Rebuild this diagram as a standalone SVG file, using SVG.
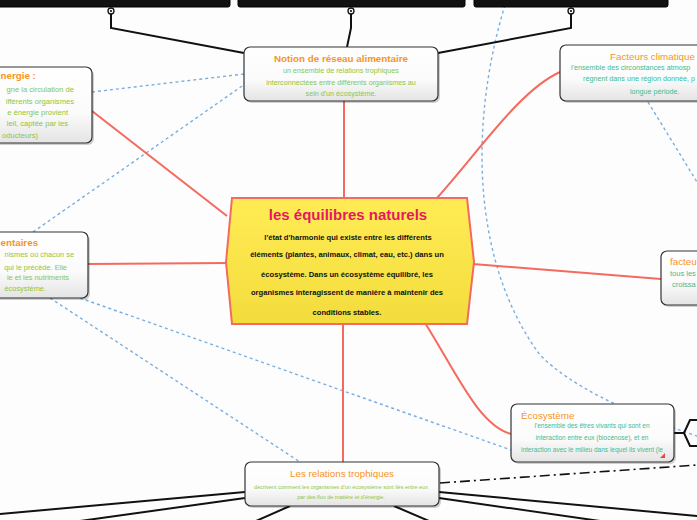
<svg xmlns="http://www.w3.org/2000/svg" width="697" height="520" viewBox="0 0 697 520">
<defs>
<linearGradient id="boxg" x1="0" y1="0" x2="0" y2="1">
<stop offset="0" stop-color="#ffffff"/><stop offset="0.6" stop-color="#fbfbfb"/><stop offset="1" stop-color="#e4e4e4"/>
</linearGradient>
<linearGradient id="yel" x1="0" y1="0" x2="0" y2="1">
<stop offset="0" stop-color="#ffec55"/><stop offset="1" stop-color="#f3dc3c"/>
</linearGradient>
<style>
.box{fill:url(#boxg);stroke:#333;stroke-width:1.2}
.shadow{fill:#000;opacity:0.18}
.topbox{fill:#111;stroke:#000}
.blk{fill:none;stroke:#111;stroke-width:2}
.red{fill:none;stroke:#f46a5e;stroke-width:2}
.blue{fill:none;stroke:#7aaee0;stroke-width:1.4;stroke-dasharray:3 3}
.dd{fill:none;stroke:#111;stroke-width:1.6;stroke-dasharray:10 4 2 4}
.t{font-family:"Liberation Sans",Arial,sans-serif}
.ttl{fill:#f7941d;font-size:9.8px}
.g{fill:#8cc63f}
.tl{fill:#3dbb91}
.k{fill:#111;font-weight:bold;font-size:7.6px}
</style>
</defs>
<rect width="697" height="520" fill="#fdfdfd"/>

<g id="connectors">
<path class="blue" d="M 505 5 C 470 120, 470 260, 540 355 C 570 385, 620 410, 697 436"/>
<path class="blue" d="M 648 102 L 697 182"/>
<path class="blue" d="M 92 92 L 244 74"/>
<path class="blue" d="M 33 232 L 245 84"/>
<path class="blue" d="M 50 298 L 300 462"/>
<path class="blue" d="M 80 298 L 511 450"/>
<path class="blk" d="M 111 14 V 28 L 244 53"/>
<path class="blk" d="M 351 14 V 28 L 347 47"/>
<path class="blk" d="M 571 14 V 28 L 438 53"/>
<path class="red" d="M 344 100 V 198"/>
<path class="red" d="M 92 111 L 227 216"/>
<path class="red" d="M 88 264 L 227 263"/>
<path class="red" d="M 437 198 C 480 150, 520 90, 560 72"/>
<path class="red" d="M 473 264 L 661 279"/>
<path class="red" d="M 425 323 C 455 370, 478 425, 511 434"/>
<path class="red" d="M 343 324 V 462"/>
<path class="blk" d="M 245 492 L 0 514"/>
<path class="blk" d="M 245 498 L 80 521"/>
<path class="blk" d="M 290 506 L 256 521"/>
<path class="blk" d="M 394 506 L 429 521"/>
<path class="blk" d="M 439 492 L 697 516"/>
<path class="blk" d="M 439 498 L 600 521"/>
<path class="dd" d="M 440 483 L 697 465"/>
<path class="blk" d="M 674 433 H 684 L 690 420 H 698 M 684 433 L 690 446 H 698"/>
</g>

<g id="top-1"><rect class="topbox" x="-5" y="-10" width="235" height="17" rx="2"/><circle cx="111" cy="11" r="3" fill="#fff" stroke="#111" stroke-width="1.3"/><circle cx="111" cy="11" r="1.1" fill="#111"/></g>
<g id="top-2"><rect class="topbox" x="238" y="-10" width="227" height="17" rx="2"/><circle cx="351" cy="11" r="3" fill="#fff" stroke="#111" stroke-width="1.3"/><circle cx="351" cy="11" r="1.1" fill="#111"/></g>
<g id="top-3"><rect class="topbox" x="474" y="-10" width="194" height="17" rx="2"/><circle cx="571" cy="11" r="3" fill="#fff" stroke="#111" stroke-width="1.3"/><circle cx="571" cy="11" r="1.1" fill="#111"/></g>

<g id="notion">
<rect class="shadow" x="246" y="49" width="194" height="54" rx="6"/>
<rect class="box" x="244" y="47" width="194" height="54" rx="6"/>
<text class="t ttl" x="341" y="61.5" text-anchor="middle" font-weight="bold">Notion de réseau alimentaire</text>
<text class="t g" font-size="7.2" text-anchor="middle"><tspan x="341" y="72.5">un ensemble de relations trophiques</tspan><tspan x="341" y="84.5">interconnectées entre différents organismes au</tspan><tspan x="341" y="95.5">sein d'un écosystème.</tspan></text>
</g>

<g id="energie">
<rect class="shadow" x="-8" y="69" width="102" height="76" rx="6"/>
<rect class="box" x="-10" y="67" width="102" height="76" rx="6"/>
<text class="t ttl" x="0.5" y="79" font-weight="bold" font-size="9">nergie :</text>
<text class="t g" font-size="7.6" text-anchor="end"><tspan x="74" y="91.5">gne la circulation de</tspan><tspan x="74" y="103.5">ifférents organismes</tspan><tspan x="68" y="114.5">e énergie provient</tspan><tspan x="68" y="125.5">leil, captée par les</tspan><tspan x="38" y="137.5">oducteurs)</tspan></text>
</g>

<g id="alimentaires">
<rect class="shadow" x="-8" y="234" width="98" height="66" rx="6"/>
<rect class="box" x="-10" y="232" width="98" height="66" rx="6"/>
<text class="t ttl" x="0.5" y="245.5" font-weight="bold" font-size="9">entaires</text>
<text class="t g" font-size="7.4" text-anchor="end"><tspan x="74" y="257">nismes où chacun se</tspan><tspan x="67" y="269.5">qui le précède. Elle</tspan><tspan x="69" y="280">ie et les nutriments</tspan><tspan x="46" y="291">écosystème.</tspan></text>
</g>

<g id="climatiques">
<rect class="shadow" x="562" y="47" width="150" height="56" rx="6"/>
<rect class="box" x="560" y="45" width="150" height="56" rx="6"/>
<text class="t ttl" x="610" y="59.5">Facteurs climatique</text>
<text class="t tl" font-size="7.2"><tspan x="571" y="70">l'ensemble des circonstances atmosp</tspan><tspan x="583" y="81">régnent dans une région donnée, p</tspan><tspan x="630" y="93.5">longue période.</tspan></text>
</g>

<g id="facteurs">
<rect class="shadow" x="663" y="253" width="60" height="54" rx="6"/>
<rect class="box" x="661" y="251" width="60" height="54" rx="6"/>
<text class="t ttl" x="670" y="264.5">facteu</text>
<text class="t tl" font-size="7.5"><tspan x="670" y="276">tous les</tspan><tspan x="672" y="287">croissa</tspan></text>
</g>

<g id="center">
<polygon points="232,198 467,198 474,262 467,324 232,324 226,262" fill="url(#yel)" stroke="#f46a5e" stroke-width="2"/>
<text class="t" x="348" y="219.5" text-anchor="middle" font-size="15" font-weight="bold" fill="#e5195e">les équilibres naturels</text>
<text class="t k" text-anchor="middle"><tspan x="348" y="239.5">l'état d'harmonie qui existe entre les différents</tspan><tspan x="347" y="256.5">éléments (plantes, animaux, climat, eau, etc.) dans un</tspan><tspan x="347" y="276.5">écosystème. Dans un écosystème équilibré, les</tspan><tspan x="347" y="294.5">organismes interagissent de manière à maintenir des</tspan><tspan x="347" y="314.5">conditions stables.</tspan></text>
</g>

<g id="ecosysteme">
<rect class="shadow" x="513" y="406" width="163" height="58" rx="6"/>
<rect class="box" x="511" y="404" width="163" height="58" rx="6"/>
<text class="t ttl" x="521" y="418.5">Écosystème</text>
<text class="t tl" font-size="6.5" text-anchor="middle"><tspan x="592" y="428">l'ensemble des êtres vivants qui sont en</tspan><tspan x="592" y="440">interaction entre eux (biocénose), et en</tspan><tspan x="592" y="452">interaction avec le milieu dans lequel ils vivent (le</tspan></text>
<polygon points="665,453 665,458 660,458" fill="#e8463a"/>
</g>

<g id="relations">
<rect class="shadow" x="247" y="464" width="194" height="44" rx="6"/>
<rect class="box" x="245" y="462" width="194" height="44" rx="6"/>
<text class="t ttl" x="342" y="476.5" text-anchor="middle">Les relations trophiques</text>
<text class="t g" font-size="5.5" text-anchor="middle"><tspan x="341" y="489">décrivent comment les organismes d'un écosystème sont liés entre eux</tspan><tspan x="341" y="499">par des flux de matière et d'énergie.</tspan></text>
</g>
</svg>
